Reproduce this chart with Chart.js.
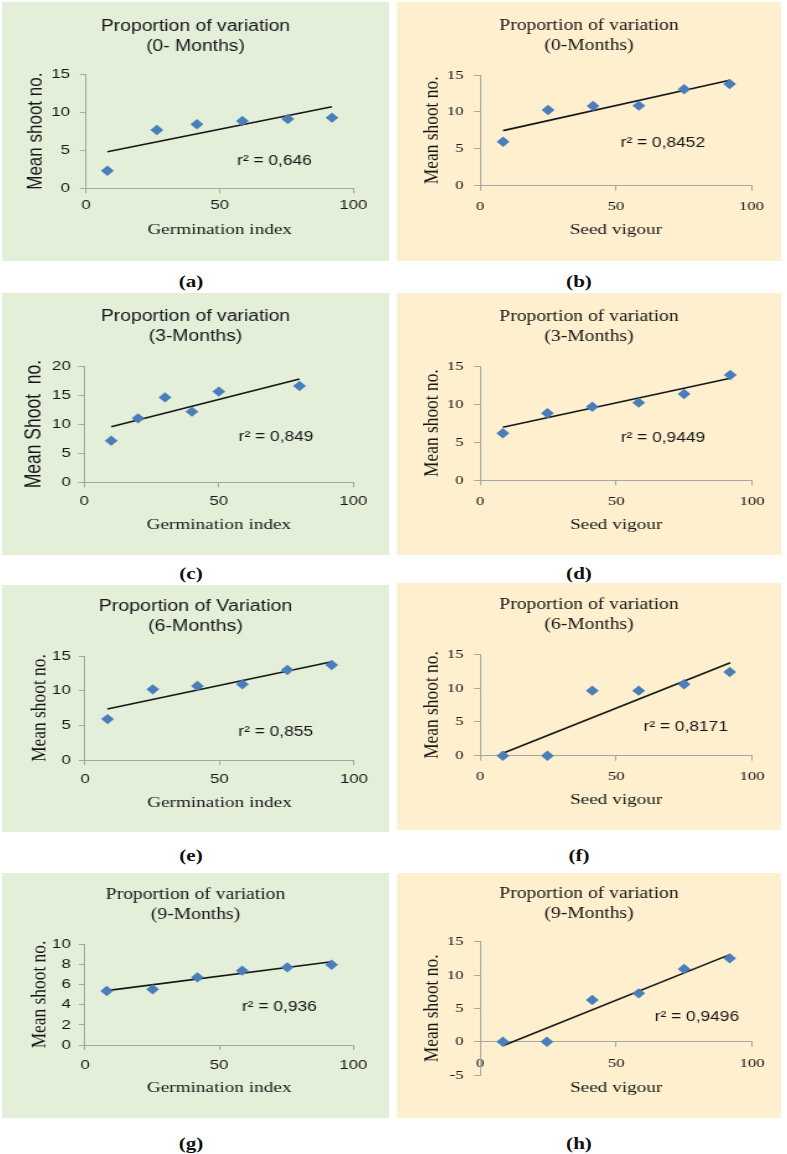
<!DOCTYPE html>
<html>
<head>
<meta charset="utf-8">
<script src="https://cdn.jsdelivr.net/npm/chart.js@4.4.1/dist/chart.umd.min.js"></script>
<style>
  body { margin: 0; background: #fff; width: 787px; height: 1154px; position: relative; overflow: hidden; }
  .panel { position: absolute; }
  .panel canvas { position: absolute; left: 0; top: 0; transform-origin: 0 0; }
  .tag { position: absolute; font: bold 17px "Liberation Serif", serif; line-height: 1; color: #111;
         transform: translate(-50%, -50%) scaleX(1.24); white-space: nowrap; }
</style>
</head>
<body>
<script>
// ---- data ----
const xTicks = [0, 50, 100];
const yTicks15 = [0, 5, 10, 15];
const yTicks20 = [0, 5, 10, 15, 20];
const yTicks10 = [0, 2, 4, 6, 8, 10];
const yTicksNeg = [-5, 0, 5, 10, 15];

// (a) germination index, 0 months
const giA = [8, 26.5, 41.5, 58.5, 75.5, 92];
const shootA = [2.3, 7.65, 8.4, 8.83, 9.1, 9.27];
const trendA = [[8, 4.8], [92, 10.7]];
// (b) seed vigour, 0 months
const svB = [8.4, 25, 41.6, 58.5, 75.2, 92];
const shootB = [5.96, 10.26, 10.8, 10.85, 13.06, 13.78];
const trendB = [[8.4, 7.46], [92, 14.3]];
// (c) germination index, 3 months
const giC = [10, 20, 30, 40, 50, 80];
const shootC = [7.16, 11.0, 14.6, 12.15, 15.6, 16.56];
const trendC = [[10, 9.57], [80, 17.77]];
// (d) seed vigour, 3 months
const svD = [8.3, 24.7, 41.2, 58.3, 75, 92];
const shootD = [6.17, 8.79, 9.66, 10.19, 11.33, 13.82];
const trendD = [[8.3, 6.95], [92, 13.38]];
// (e) germination index, 6 months
const giE = [8.4, 25.2, 41.8, 58.5, 75.2, 91.7];
const shootE = [5.9, 10.19, 10.67, 10.91, 12.98, 13.7];
const trendE = [[8.3, 7.36], [91.7, 14.18]];
// (f) seed vigour, 6 months
const svF = [8.3, 24.7, 41.2, 58.3, 75, 91.8];
const shootF = [0, 0, 9.62, 9.62, 10.56, 12.38];
const trendF = [[8.3, 0.35], [92, 13.76]];
// (g) germination index, 9 months
const giG = [8.1, 25.2, 41.9, 58.6, 75.4, 91.9];
const shootG = [5.35, 5.51, 6.7, 7.36, 7.69, 7.95];
const trendG = [[8.1, 5.38], [91.9, 8.25]];
// (h) seed vigour, 9 months
const svH = [8.3, 24.5, 41.2, 58.3, 75, 91.8];
const shootH = [0, 0, 6.25, 7.25, 10.9, 12.5];
const trendH = [[8.3, -0.6], [92, 13.1]];

// ---- look ----
const SANS = '"Liberation Sans", Arial, sans-serif';
const SERIF = '"Liberation Serif", "Times New Roman", serif';
const GREEN = '#E4EFDA', YELLOW = '#FEF0CF', BLUE = '#4A7EBB', AXIS = '#A6A6A6', INK = '#161616';
const STRETCH = 1.24;   // the figure was widened, so each chart is drawn narrow and stretched

// boxes and guide positions are page pixels
const panels = [
  { tag: '(a)', tagAt: [191, 281], box: [2, 2, 387, 259], bg: GREEN,
    title: ['Proportion of variation', '(0- Months)'], titleFont: SANS, titleSize: 15.6,
    yLabel: 'Mean shoot no.', yLabelFont: SANS, yLabelSize: 17, xLabel: 'Germination index', tickFont: SANS,
    x: giA, y: shootA, trend: trendA, yTicks: yTicks15, r2: 'r\u00b2 = 0,646', r2At: [56.5, 3.6],
    g: { x0: 86, x1: 353.3, yTop: 74, yBot: 188.3, t1: 26.7, yLabX: 36, xLabY: 230, xGap: 16.7, yGap: 16 } },
  { tag: '(b)', tagAt: [579, 281], box: [397, 2, 384, 259], bg: YELLOW,
    title: ['Proportion of variation', '(0-Months)'], titleFont: SERIF, titleSize: 15.8,
    yLabel: 'Mean shoot no.', yLabelFont: SERIF, yLabelSize: 17.4, xLabel: 'Seed vigour', tickFont: SERIF,
    x: svB, y: shootB, trend: trendB, yTicks: yTicks15, r2: 'r\u00b2 = 0,8452', r2At: [51.8, 5.83],
    g: { x0: 480.3, x1: 751.3, yTop: 75, yBot: 185.7, t1: 25.5, yLabX: 432.3, xLabY: 230, xGap: 20.3, yGap: 16.6 } },
  { tag: '(c)', tagAt: [191, 573], box: [2, 293, 387, 262], bg: GREEN,
    title: ['Proportion of variation', '(3-Months)'], titleFont: SANS, titleSize: 15.6,
    yLabel: 'Mean Shoot  no.', yLabelFont: SANS, yLabelSize: 17.5, xLabel: 'Germination index', tickFont: SANS,
    x: giC, y: shootC, trend: trendC, yTicks: yTicks20, r2: 'r\u00b2 = 0,849', r2At: [57.4, 7.84],
    g: { x0: 84.3, x1: 353.3, yTop: 366, yBot: 482.3, t1: 316.7, yLabX: 35, xLabY: 525, xGap: 19.4, yGap: 13.6 } },
  { tag: '(d)', tagAt: [579, 573], box: [397, 293, 384, 262], bg: YELLOW,
    title: ['Proportion of variation', '(3-Months)'], titleFont: SERIF, titleSize: 15.8,
    yLabel: 'Mean shoot no.', yLabelFont: SERIF, yLabelSize: 17.4, xLabel: 'Seed vigour', tickFont: SERIF,
    x: svD, y: shootD, trend: trendD, yTicks: yTicks15, r2: 'r\u00b2 = 0,9449', r2At: [51.7, 5.51],
    g: { x0: 480.3, x1: 752, yTop: 366, yBot: 480.3, t1: 316.7, yLabX: 432.3, xLabY: 525, xGap: 21.4, yGap: 16.6 } },
  { tag: '(e)', tagAt: [191, 855], box: [2, 585, 387, 247], bg: GREEN,
    title: ['Proportion of Variation', '(6-Months)'], titleFont: SANS, titleSize: 15.8,
    yLabel: 'Mean shoot no.', yLabelFont: SERIF, yLabelSize: 17.4, xLabel: 'Germination index', tickFont: SANS,
    x: giE, y: shootE, trend: trendE, yTicks: yTicks15, r2: 'r\u00b2 = 0,855', r2At: [57, 4.08],
    g: { x0: 85, x1: 354, yTop: 656, yBot: 760, t1: 606.7, yLabX: 39.3, xLabY: 802.7, xGap: 19.3, yGap: 14.3 } },
  { tag: '(f)', tagAt: [579, 855], box: [397, 583, 384, 247], bg: YELLOW,
    title: ['Proportion of variation', '(6-Months)'], titleFont: SERIF, titleSize: 15.8,
    yLabel: 'Mean shoot no.', yLabelFont: SERIF, yLabelSize: 17.4, xLabel: 'Seed vigour', tickFont: SERIF,
    x: svF, y: shootF, trend: trendF, yTicks: yTicks15, r2: 'r\u00b2 = 0,8171', r2At: [60.1, 4.29],
    g: { x0: 480.3, x1: 752, yTop: 654.3, yBot: 755.7, t1: 605, yLabX: 432.3, xLabY: 800, xGap: 21, yGap: 16.6 } },
  { tag: '(g)', tagAt: [191, 1143], box: [2, 873, 387, 245], bg: GREEN,
    title: ['Proportion of variation', '(9-Months)'], titleFont: SERIF, titleSize: 15.8,
    yLabel: 'Mean shoot no.', yLabelFont: SERIF, yLabelSize: 17.4, xLabel: 'Germination index', tickFont: SANS,
    x: giG, y: shootG, trend: trendG, yTicks: yTicks10, r2: 'r\u00b2 = 0,936', r2At: [58.5, 3.79],
    g: { x0: 85, x1: 353.3, yTop: 944, yBot: 1045, t1: 895, yLabX: 39.3, xLabY: 1088.3, xGap: 20, yGap: 14.3 } },
  { tag: '(h)', tagAt: [579, 1143], box: [397, 873, 384, 245], bg: YELLOW,
    title: ['Proportion of variation', '(9-Months)'], titleFont: SERIF, titleSize: 15.8,
    yLabel: 'Mean shoot no.', yLabelFont: SERIF, yLabelSize: 17.4, xLabel: 'Seed vigour', tickFont: SERIF,
    x: svH, y: shootH, trend: trendH, yTicks: yTicksNeg, r2: 'r\u00b2 = 0,9496', r2At: [64.2, 3.75], crossZero: true,
    g: { x0: 480.3, x1: 752, yTop: 941.7, yBot: 1075, t1: 894, yLabX: 432.3, xLabY: 1088.3, xGap: 21.6, yGap: 16.6 } }
];

// r² text placed in data units
const r2Label = {
  id: 'r2Label',
  afterDatasetsDraw(chart, args, opts) {
    const { ctx, scales: { x, y } } = chart;
    ctx.save();
    ctx.font = '14px ' + SANS;
    ctx.fillStyle = INK;
    ctx.textBaseline = 'middle';
    ctx.fillText(opts.text, x.getPixelForValue(opts.at[0]), y.getPixelForValue(opts.at[1]));
    ctx.restore();
  }
};

const TICK_LEN = 5, TICK_SIZE = 13.5, TITLE_LH = 20, XLAB_SIZE = 15.5;

function build(p) {
  const [L, T, W, H] = p.box;
  const g = p.g;
  const cw = Math.round(W / STRETCH);
  const k = cw / W;
  const ix = v => (v - L) * k, iy = v => v - T;

  const div = document.createElement('div');
  div.className = 'panel';
  Object.assign(div.style, { left: L + 'px', top: T + 'px', width: W + 'px', height: H + 'px', background: p.bg });
  const canvas = document.createElement('canvas');
  canvas.width = cw;
  canvas.height = H;
  canvas.style.transform = `scaleX(${W / cw})`;
  div.appendChild(canvas);
  document.body.appendChild(div);

  const tag = document.createElement('div');
  tag.className = 'tag';
  tag.textContent = p.tag;
  tag.style.left = p.tagAt[0] + 'px';
  tag.style.top = p.tagAt[1] + 'px';
  document.body.appendChild(tag);

  // chart area in canvas units
  const left = ix(g.x0), right = ix(g.x1), top = iy(g.yTop), bot = iy(g.yBot);
  const padSide = cw - right;             // same on both sides so the title stays centred
  const yMin = p.yTicks[0], yMax = p.yTicks[p.yTicks.length - 1];
  const tPadTop = iy(g.t1) - TITLE_LH / 2;
  const tPadBot = top - tPadTop - TITLE_LH * p.title.length;
  const xLabLH = XLAB_SIZE * 1.2;
  const yLabLH = p.yLabelSize * 1.2;

  let xH, padB, xTitlePad;
  if (p.crossZero) {
    // an axis placed at y = 0 takes no layout room, the padding does it
    const axisPx = bot - (0 - yMin) / (yMax - yMin) * (bot - top);
    padB = H - bot;
    xH = H - bot;
    xTitlePad = axisPx + xH - xLabLH / 2 - iy(g.xLabY);
  } else {
    xH = iy(g.xLabY) + xLabLH / 2 - bot;
    padB = H - bot - xH;
    xTitlePad = 0;
  }
  const xTickPad = g.xGap - TICK_LEN - TICK_SIZE * 1.2 / 2;
  const yTickPad = g.yGap * k - TICK_LEN;

  const grid = { display: true, drawOnChartArea: false, drawTicks: true, tickLength: TICK_LEN, color: AXIS, lineWidth: 1 };
  const border = { display: true, color: AXIS, width: 1 };

  new Chart(canvas, {
    type: 'scatter',
    data: {
      datasets: [
        {
          data: p.x.map((v, i) => ({ x: v, y: p.y[i] })),
          pointStyle: 'rectRot', pointRadius: 5.2,
          backgroundColor: BLUE, borderColor: BLUE, borderWidth: 0, clip: false
        },
        {
          data: p.trend.map(([x, y]) => ({ x, y })),
          showLine: true, pointRadius: 0, borderColor: INK, borderWidth: 1.6, clip: false
        }
      ]
    },
    options: {
      responsive: false,
      animation: false,
      devicePixelRatio: 1,
      events: [],
      layout: { padding: { left: padSide, top: 0, right: padSide, bottom: padB } },
      plugins: {
        legend: { display: false },
        tooltip: { enabled: false },
        title: {
          display: true, text: p.title, color: INK,
          font: { family: p.titleFont, size: p.titleSize, weight: 'normal', lineHeight: TITLE_LH + 'px' },
          padding: { top: tPadTop, bottom: tPadBot }
        },
        r2Label: { text: p.r2, at: p.r2At }
      },
      scales: {
        x: {
          type: 'linear', min: xTicks[0], max: xTicks[xTicks.length - 1],
          position: p.crossZero ? { y: 0 } : 'bottom',
          afterBuildTicks: s => { s.ticks = xTicks.map(v => ({ value: v })); },
          afterFit: s => { s.height = xH; },
          grid, border,
          ticks: { font: { family: p.tickFont, size: TICK_SIZE }, color: INK, padding: xTickPad, maxRotation: 0, autoSkip: false },
          title: {
            display: true, text: p.xLabel, color: INK,
            font: { family: SERIF, size: XLAB_SIZE, lineHeight: 1.2 },
            padding: { top: 0, bottom: xTitlePad }
          }
        },
        y: {
          type: 'linear', min: yMin, max: yMax, position: 'left',
          afterBuildTicks: s => { s.ticks = p.yTicks.map(v => ({ value: v })); },
          afterFit: s => { s.width = left - padSide; },
          grid, border,
          ticks: { font: { family: p.tickFont, size: TICK_SIZE }, color: INK, padding: yTickPad, autoSkip: false },
          title: {
            display: true, text: p.yLabel, color: INK,
            font: { family: p.yLabelFont, size: p.yLabelSize, lineHeight: 1.2 },
            padding: { top: ix(g.yLabX) - padSide - yLabLH / 2, bottom: 0 }
          }
        }
      }
    },
    plugins: [r2Label]
  });
}

panels.forEach(build);
</script>
</body>
</html>
